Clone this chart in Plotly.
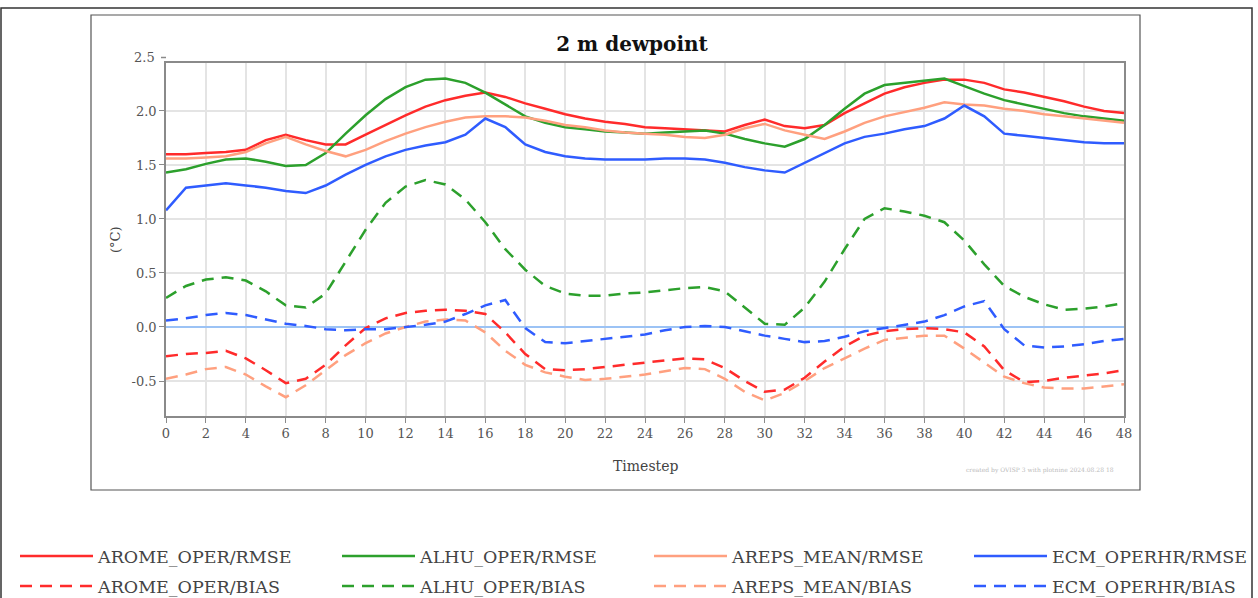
import plotly.graph_objects as go

steps = list(range(49))

arome_rmse = [1.60, 1.60, 1.61, 1.62, 1.64, 1.73, 1.78, 1.73, 1.69, 1.69, 1.78, 1.87, 1.96, 2.04, 2.10, 2.14, 2.17,
              2.13, 2.07, 2.02, 1.97, 1.93, 1.90, 1.88, 1.85, 1.84, 1.83, 1.82, 1.81, 1.87, 1.92, 1.86, 1.84,
              1.87, 1.98, 2.07, 2.16, 2.22, 2.26, 2.29, 2.29, 2.26, 2.20, 2.17, 2.13, 2.09, 2.04, 2.00, 1.98]
alhu_rmse = [1.43, 1.46, 1.51, 1.55, 1.56, 1.53, 1.49, 1.50, 1.61, 1.79, 1.96, 2.11, 2.22, 2.29, 2.30, 2.26, 2.17,
             2.06, 1.95, 1.89, 1.85, 1.83, 1.81, 1.80, 1.79, 1.80, 1.81, 1.82, 1.79, 1.74, 1.70, 1.67, 1.74,
             1.87, 2.02, 2.16, 2.24, 2.26, 2.28, 2.30, 2.23, 2.16, 2.10, 2.06, 2.02, 1.98, 1.95, 1.93, 1.91]
areps_rmse = [1.56, 1.56, 1.57, 1.58, 1.62, 1.70, 1.76, 1.69, 1.63, 1.58, 1.64, 1.72, 1.79, 1.85, 1.90, 1.94, 1.95,
              1.95, 1.94, 1.91, 1.87, 1.85, 1.82, 1.80, 1.79, 1.78, 1.76, 1.75, 1.78, 1.84, 1.88, 1.82, 1.78,
              1.74, 1.81, 1.89, 1.95, 1.99, 2.03, 2.08, 2.06, 2.05, 2.02, 2.00, 1.97, 1.95, 1.93, 1.91, 1.89]
ecm_rmse = [1.08, 1.29, 1.31, 1.33, 1.31, 1.29, 1.26, 1.24, 1.31, 1.41, 1.50, 1.58, 1.64, 1.68, 1.71, 1.78, 1.93,
            1.85, 1.69, 1.62, 1.58, 1.56, 1.55, 1.55, 1.55, 1.56, 1.56, 1.55, 1.52, 1.48, 1.45, 1.43, 1.52,
            1.61, 1.70, 1.76, 1.79, 1.83, 1.86, 1.93, 2.05, 1.95, 1.79, 1.77, 1.75, 1.73, 1.71, 1.70, 1.70]

arome_bias = [-0.27, -0.25, -0.24, -0.22, -0.29, -0.40, -0.52, -0.48, -0.35, -0.17, -0.01, 0.08, 0.13, 0.15, 0.16,
              0.15, 0.12, -0.05, -0.25, -0.39, -0.40, -0.39, -0.37, -0.35, -0.33, -0.31, -0.29, -0.30, -0.38,
              -0.50, -0.60, -0.58, -0.47, -0.32, -0.18, -0.08, -0.04, -0.02, -0.01, -0.02, -0.05, -0.18, -0.40,
              -0.51, -0.50, -0.47, -0.45, -0.43, -0.40]
alhu_bias = [0.27, 0.38, 0.44, 0.46, 0.43, 0.33, 0.20, 0.18, 0.31, 0.60, 0.90, 1.15, 1.30, 1.36, 1.32, 1.18, 0.97,
             0.72, 0.53, 0.38, 0.31, 0.29, 0.29, 0.31, 0.32, 0.34, 0.36, 0.37, 0.33, 0.18, 0.03, 0.02, 0.18,
             0.42, 0.72, 1.00, 1.10, 1.07, 1.03, 0.97, 0.80, 0.58, 0.38, 0.28, 0.21, 0.16, 0.17, 0.19, 0.22]
areps_bias = [-0.48, -0.44, -0.39, -0.37, -0.44, -0.55, -0.65, -0.54, -0.40, -0.26, -0.15, -0.06, 0.00, 0.05, 0.07,
              0.06, -0.05, -0.22, -0.35, -0.42, -0.46, -0.49, -0.48, -0.46, -0.44, -0.41, -0.38, -0.39, -0.48,
              -0.60, -0.68, -0.61, -0.50, -0.38, -0.29, -0.20, -0.12, -0.10, -0.08, -0.08, -0.20, -0.33, -0.46,
              -0.52, -0.56, -0.57, -0.57, -0.55, -0.53]
ecm_bias = [0.06, 0.08, 0.11, 0.13, 0.11, 0.07, 0.03, 0.01, -0.02, -0.03, -0.02, -0.02, 0.00, 0.02, 0.05, 0.12,
            0.20, 0.25, -0.01, -0.14, -0.15, -0.13, -0.11, -0.09, -0.07, -0.03, 0.00, 0.01, 0.00, -0.04, -0.08,
            -0.11, -0.14, -0.13, -0.09, -0.04, -0.01, 0.02, 0.05, 0.11, 0.19, 0.24, -0.02, -0.17, -0.19, -0.18,
            -0.16, -0.13, -0.11]

names = ["AROME_OPER", "ALHU_OPER", "AREPS_MEAN", "ECM_OPERHR"]
colors = ["#ff2b2b", "#2ca02c", "#ffa07f", "#2f5cff"]
rmse_series = [arome_rmse, alhu_rmse, areps_rmse, ecm_rmse]
bias_series = [arome_bias, alhu_bias, areps_bias, ecm_bias]

x_ticks = list(range(0, 49, 2))
y_ticks = [-0.5, 0.0, 0.5, 1.0, 1.5, 2.0]
y_ticktext = ["-0.5", "0.0", "0.5", "1.0", "1.5", "2.0"]

# layout geometry (pixels)
FW, FH = 1258, 598
L, R, T, B = 166, 134, 63, 182
PW = FW - L - R
PH = FH - T - B


def px(x):
    return (x - L) / PW


def py(y):
    return (FH - B - y) / PH


SERIF = "DejaVu Serif"

# legend slots: one legend per entry, 4 columns x 2 rows
col_x = [15, 337, 649, 969]
row_y = [538, 568]

legend_common = dict(orientation="v", xanchor="left", yanchor="top", itemwidth=73,
                     bgcolor="rgba(0,0,0,0)", font=dict(family=SERIF, size=17.5, color="#444444"),
                     itemclick=False, itemdoubleclick=False)

fig = go.Figure()
legend_layout = {}
k = 0
for row, (kind, series_list, dash) in enumerate([("RMSE", rmse_series, None), ("BIAS", bias_series, "12px,8px")]):
    for col, (n, c, s) in enumerate(zip(names, colors, series_list)):
        k += 1
        lg = "legend" if k == 1 else f"legend{k}"
        line = dict(color=c, width=2.5)
        if dash:
            line["dash"] = dash
        fig.add_trace(go.Scatter(x=steps, y=s, mode="lines", name=f"{n}/{kind}", line=line, legend=lg))
        legend_layout[lg] = dict(x=px(col_x[col]), y=py(row_y[row]), **legend_common)

axis_common = dict(showgrid=True, gridcolor="#e4e4e4", gridwidth=1.5, showline=True, mirror=True,
                   linecolor="#8a8a8a", linewidth=1.5, ticks="outside", ticklen=5, tickcolor="#8a8a8a",
                   tickfont=dict(family=SERIF, size=13, color="#555555"))

fig.update_layout(
    width=FW, height=FH,
    margin=dict(l=L, r=R, t=T, b=B, autoexpand=False),
    paper_bgcolor="white", plot_bgcolor="white",
    title=dict(text="<b>2 m dewpoint</b>", x=px(632), xref="paper", xanchor="center",
               y=1 - 44 / FH, yref="container", yanchor="middle",
               font=dict(family=SERIF, size=20, color="#111111")),
    xaxis=dict(range=[0, 48], tickvals=x_ticks, zeroline=False, **axis_common),
    yaxis=dict(range=[-0.824, 2.444], tickvals=y_ticks, ticktext=y_ticktext,
               zeroline=True, zerolinecolor="#9cc3f5", zerolinewidth=2, **axis_common),
    showlegend=True,
    **legend_layout,
)

annotations = [
    dict(text="Timestep", x=px(645), y=py(466), xref="paper", yref="paper", showarrow=False,
         xanchor="center", yanchor="middle", font=dict(family=SERIF, size=14, color="#444444")),
    dict(text="(°C)", x=px(115), y=py(240), xref="paper", yref="paper", showarrow=False, textangle=-90,
         xanchor="center", yanchor="middle", font=dict(family=SERIF, size=13, color="#444444")),
    dict(text="2.5", x=px(157), y=py(57.5), xref="paper", yref="paper", showarrow=False,
         xanchor="right", yanchor="middle", font=dict(family=SERIF, size=13, color="#555555")),
    dict(text="created by OVISP 3 with plotnine 2024.08.28 18", x=px(1040), y=py(470), xref="paper",
         yref="paper", showarrow=False, xanchor="center", yanchor="middle",
         font=dict(family=SERIF, size=6, color="#bbbbbb")),
]
fig.update_layout(annotations=annotations)

shapes = [
    # 2.5 tick mark above plot frame
    dict(type="line", xref="paper", yref="paper", x0=px(161), x1=px(166), y0=py(57.5), y1=py(57.5),
         line=dict(color="#8a8a8a", width=1.5)),
    # inner chart frame
    dict(type="rect", xref="paper", yref="paper", x0=px(91), x1=px(1140), y0=py(490), y1=py(15),
         line=dict(color="#555555", width=1.2), layer="below"),
    # outer frame
    dict(type="rect", xref="paper", yref="paper", x0=px(1), x1=px(1252), y0=py(604), y1=py(8),
         line=dict(color="#333333", width=1.5), layer="below"),
]
fig.update_layout(shapes=shapes)

fig.write_html("out.html")
